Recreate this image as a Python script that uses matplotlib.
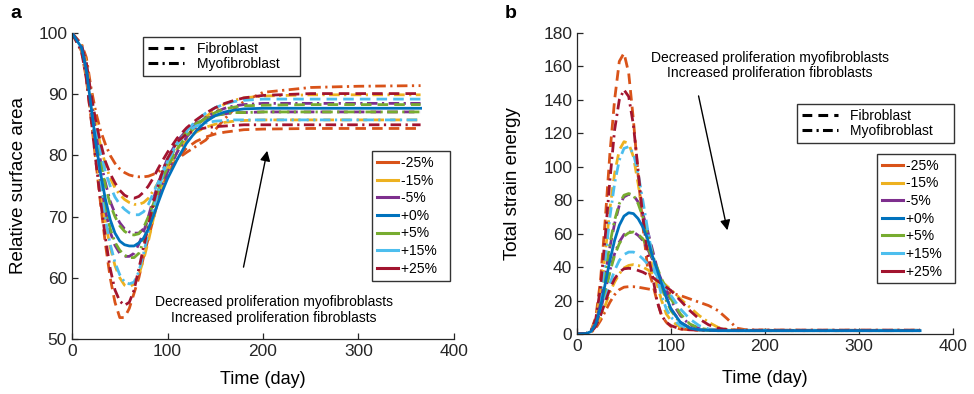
import numpy as np
import matplotlib
matplotlib.use('Agg')
from matplotlib import pyplot as plt
from matplotlib.lines import Line2D

plt.rcParams['font.family'] = ['Liberation Sans', 'DejaVu Sans']

''' --------------------------- data ----------------------------------'''
days = [0, 10, 15, 20, 25, 30, 35, 40, 45, 50, 55, 60, 65, 70, 75, 80, 85, 90, 95, 100,
        110, 120, 130, 140, 150, 160, 170, 180, 200, 250, 300, 365]

labels = ['-25%', '-15%', '-5%', '+0%', '+5%', '+15%', '+25%']
colors = ['#D95319', '#EDB120', '#7E2F8E', '#0072BD', '#77AC30', '#4DBEEE', '#A2142F']

# relative surface area, order: -25, -15, -5, +5, +15, +25
area_fibro = [
    [100, 97, 92.5, 86, 79, 72, 65.5, 60, 56, 53.5, 53.5, 55, 57.5, 60, 63.5, 66.5, 69.5, 72.5, 75, 77,
     79.5, 81.2, 82.3, 83, 83.5, 83.8, 84, 84.2, 84.3, 84.4, 84.4, 84.4],
    [100, 97.2, 93, 87, 80.5, 74.5, 69, 65, 62, 60, 58.8, 58.5, 59, 60.5, 63, 66, 69.5, 72.5, 75.3, 77.5,
     80.5, 82.5, 83.8, 84.6, 85.1, 85.4, 85.6, 85.7, 85.8, 85.8, 85.8, 85.8],
    [100, 97.5, 93.5, 87.5, 81.5, 76, 71, 67.5, 65.3, 64, 63.5, 63.5, 64, 65.5, 67.5, 70, 72.8, 75.3, 77.5, 79.5,
     82.3, 84.1, 85.3, 86, 86.5, 86.8, 87, 87, 87.1, 87.1, 87.1, 87.1],
    [100, 97.8, 94.5, 89, 83.5, 79, 75, 72, 70, 68.5, 67.6, 67.1, 67, 67.2, 68.2, 70, 72, 74.2, 76.3, 78,
     81, 83.2, 84.9, 86.1, 87, 87.6, 87.9, 88.1, 88.2, 88.3, 88.3, 88.3],
    [100, 98, 95, 89.5, 84.5, 80.5, 77.3, 75, 73.2, 72, 71.2, 70.6, 70.3, 70.3, 70.8, 72, 73.8, 75.5, 77.3, 79,
     81.8, 84, 85.7, 86.9, 87.8, 88.4, 88.8, 89, 89.2, 89.2, 89.2, 89.2],
    [100, 98, 95.2, 90, 85.5, 82, 79, 77, 75.5, 74.3, 73.5, 73.1, 73, 73.3, 74, 75, 76.3, 77.8, 79.2, 80.5,
     82.8, 84.5, 85.8, 86.9, 87.8, 88.5, 89, 89.4, 89.8, 90.1, 90.1, 90.1],
]
area_myo = [
    [100, 98.2, 96, 91, 87, 84, 81.8, 80, 78.7, 77.8, 77.2, 76.8, 76.6, 76.5, 76.5, 76.6, 76.9, 77.3, 77.8, 78.3,
     79.4, 80.5, 81.5, 82.5, 84.2, 86, 87.6, 88.8, 90.3, 91.1, 91.3, 91.4],
    [100, 98, 95.2, 90, 85.3, 81.5, 78.5, 76.3, 74.7, 73.6, 72.8, 72.3, 72, 72, 72.3, 73, 74.2, 75.5, 77, 78.5,
     81, 83, 84.8, 86.3, 87.5, 88.4, 89, 89.4, 89.7, 89.9, 89.9, 89.9],
    [100, 97.8, 94.5, 89, 83.5, 79, 75.5, 72.5, 70.5, 69, 68, 67.5, 67.3, 67.3, 68, 69.5, 71.5, 73.5, 75.5, 77.3,
     80.5, 83, 84.8, 86.2, 87.1, 87.7, 88.1, 88.3, 88.5, 88.5, 88.5, 88.5],
    [100, 97.5, 93.5, 87.5, 81.5, 76, 71.5, 68, 65.8, 64.5, 63.7, 63.3, 63.3, 64, 66, 68.5, 71.3, 74, 76.5, 78.7,
     81.8, 83.9, 85.2, 86, 86.5, 86.8, 87, 87, 87.1, 87.1, 87.1, 87.1],
    [100, 97.2, 93, 87, 80.5, 74.5, 69.5, 65.5, 62.5, 60.5, 59.3, 59, 59.3, 61, 64, 67.5, 71, 74, 76.8, 79,
     82, 83.8, 84.8, 85.3, 85.6, 85.7, 85.8, 85.8, 85.8, 85.8, 85.8, 85.8],
    [100, 97, 92.5, 86, 79, 72.5, 66.5, 61.5, 58, 56.2, 55.5, 56, 58, 61.5, 65, 68.5, 72, 75, 77.5, 79.5,
     82.2, 83.5, 84.2, 84.5, 84.7, 84.8, 84.9, 85, 85, 85, 85, 85],
]
area_base = [100, 97.6, 94, 88, 82, 77, 72.8, 69.5, 67.3, 66, 65.4, 65.2, 65.2, 65.7, 66.5, 68, 70, 72.2, 74.3, 76.2,
             79.3, 82, 84, 85.5, 86.5, 87.1, 87.4, 87.6, 87.7, 87.7, 87.7, 87.7]

# total strain energy
energy_fibro = [
    [0, 0.3, 2, 10, 32, 68, 108, 140, 163, 168, 156, 128, 95, 65, 40, 31, 20, 11, 7, 4.5,
     3, 2.5, 2.3, 2.2, 2.2, 2.2, 2.2, 2.2, 2.2, 2.2, 2.2, 2.2],
    [0, 0.3, 2, 8, 24, 48, 75, 96, 110, 115, 114, 106, 90, 72, 55, 40, 30, 20, 12, 8,
     4, 2.8, 2.4, 2.2, 2.2, 2.2, 2.2, 2.2, 2.2, 2.2, 2.2, 2.2],
    [0, 0.3, 1.8, 7, 18, 35, 52, 66, 77, 82, 83.5, 83, 79, 72, 62, 51, 40, 30, 22, 15,
     7, 3.8, 2.6, 2.2, 2, 2, 2, 2, 2, 2, 2, 2],
    [0, 0.3, 1.5, 5.5, 14, 25, 37, 47, 54, 58.5, 60.5, 61, 59.5, 57, 52, 46, 40, 33, 27, 21,
     12, 6, 3.5, 2.6, 2.2, 2, 2, 2, 2, 2, 2, 2],
    [0, 0.3, 1.3, 5, 12, 21, 30, 38, 44, 47.5, 49, 49, 47.5, 45, 42, 39, 35, 31, 27, 23,
     15, 9, 5, 3, 2.5, 2.2, 2, 2, 2, 2, 2, 2],
    [0, 0.3, 1.2, 4.5, 11, 19, 27, 33, 37, 39, 39.3, 39, 38, 37, 35.5, 34, 32, 30, 28, 26,
     20, 14, 9, 5.5, 3.5, 2.6, 2.2, 2, 2, 2, 2, 2],
]
energy_myo = [
    [0, 0.3, 1, 3.5, 8, 13.5, 19, 23.5, 26.5, 28, 28.3, 28.3, 28, 27.5, 27, 26.5, 26, 25.5, 25, 24.5,
     23, 21, 19, 17, 14, 9, 3.5, 2.5, 2.3, 2.2, 2.2, 2.2],
    [0, 0.3, 1.2, 4.5, 10, 17, 25, 31, 36, 39.5, 41, 41.5, 41, 40, 38.5, 36.5, 34, 31.5, 29, 26.5,
     21, 16, 11, 7, 4, 2.8, 2.3, 2.2, 2.2, 2.2, 2.2, 2.2],
    [0, 0.3, 1.5, 5.5, 14, 26, 38, 48, 55, 59.5, 61, 61, 59, 56, 51, 45, 39, 32, 26, 20,
     11, 5.5, 3.3, 2.5, 2.2, 2, 2, 2, 2, 2, 2, 2],
    [0, 0.3, 1.8, 7, 19, 36, 54, 68, 78, 83, 84, 83, 78, 70, 60, 49, 38, 28, 20, 14,
     6.5, 3.5, 2.5, 2.2, 2, 2, 2, 2, 2, 2, 2, 2],
    [0, 0.3, 2, 8, 22, 45, 70, 90, 104, 111, 112, 108, 96, 80, 63, 47, 34, 23, 15, 10,
     5, 3, 2.4, 2.2, 2.2, 2.2, 2.2, 2.2, 2.2, 2.2, 2.2, 2.2],
    [0, 0.3, 2, 9, 28, 58, 92, 122, 140, 146, 142, 125, 98, 70, 48, 36, 20, 11, 7, 5,
     3, 2.5, 2.3, 2.3, 2.3, 2.3, 2.3, 2.3, 2.3, 2.3, 2.3, 2.3],
]
energy_base = [0, 0.3, 1.5, 6, 16, 30, 44, 56, 65, 70.5, 72.5, 72, 69, 64, 57, 47, 39, 30, 22, 15,
               7, 3.5, 2.5, 2.2, 2, 2, 2, 2, 2, 2, 2, 2]

''' --------------------------- plot ----------------------------------'''
lw = 2.0
dash = (3.8, 2.2)
dashdot = (3.8, 1.6, 0.8, 1.6)
var_colors = [c for i, c in enumerate(colors) if i != 3]

fig = plt.figure(figsize=(9.74, 3.94), dpi=100)
ax_a = fig.add_axes([72 / 974, 1 - 339 / 394, 382 / 974, 306 / 394])
ax_b = fig.add_axes([577 / 974, 1 - 334 / 394, 376 / 974, 301 / 394])


def draw_panel(ax, fibro, myo, base):
    for k in range(6):
        ax.plot(days, fibro[k], color=var_colors[k], lw=lw, dashes=dash)
        ax.plot(days, myo[k], color=var_colors[k], lw=lw, dashes=dashdot)
    ax.plot(days, base, color=colors[3], lw=lw)
    ax.spines['top'].set_visible(False)
    ax.spines['right'].set_visible(False)
    for s in ['left', 'bottom']:
        ax.spines[s].set_linewidth(0.9)
        ax.spines[s].set_color('#262626')
    ax.tick_params(direction='in', length=4, width=0.9, labelsize=12.5, colors='#262626')
    ax.set_xlim(0, 400)
    ax.set_xticks([0, 100, 200, 300, 400])
    ax.set_xlabel('Time (day)', fontsize=13)


def add_legends(ax, pos_style, pos_color):
    style_handles = [Line2D([], [], color='k', lw=2.2, dashes=(3.2, 2.0)),
                     Line2D([], [], color='k', lw=2.2, dashes=(3.2, 1.4, 0.7, 1.4))]
    leg1 = ax.legend(style_handles, ['Fibroblast    ', 'Myofibroblast    '], loc='upper left',
                     bbox_to_anchor=pos_style, fontsize=10, frameon=True, fancybox=False,
                     edgecolor='k', handlelength=2.6, handletextpad=0.9, labelspacing=0.1,
                     borderpad=0.35, borderaxespad=0)
    leg1.get_frame().set_linewidth(1.0)
    ax.add_artist(leg1)
    color_handles = [Line2D([], [], color=c, lw=2.2) for c in colors]
    leg2 = ax.legend(color_handles, [l + '  ' for l in labels], loc='upper left',
                     bbox_to_anchor=pos_color,
                     fontsize=10, frameon=True, fancybox=False, edgecolor='k',
                     handlelength=1.5, handletextpad=0.25, labelspacing=0.26,
                     borderpad=0.35, borderaxespad=0)
    leg2.get_frame().set_linewidth(1.0)


# panel a
draw_panel(ax_a, area_fibro, area_myo, area_base)
ax_a.set_ylim(50, 100)
ax_a.set_yticks([50, 60, 70, 80, 90, 100])
ax_a.set_ylabel('Relative surface area', fontsize=13.5)
ax_a.yaxis.set_label_coords(-0.118, 0.5)
ax_a.xaxis.set_label_coords(0.5, -0.105)
add_legends(ax_a, (0.186, 0.987), (0.785, 0.614))
ax_a.annotate('', xy=(205, 81.2), xytext=(179, 61.3),
              arrowprops=dict(arrowstyle='-|>', color='k', lw=1, mutation_scale=15))
ax_a.text(211, 54.7, 'Decreased proliferation myofibroblasts\nIncreased proliferation fibroblasts',
          ha='center', va='center', fontsize=10, linespacing=1.15)

# panel b
draw_panel(ax_b, energy_fibro, energy_myo, energy_base)
ax_b.set_ylim(0, 180)
ax_b.set_yticks(range(0, 181, 20))
ax_b.set_ylabel('Total strain energy', fontsize=13.5)
ax_b.yaxis.set_label_coords(-0.148, 0.5)
ax_b.xaxis.set_label_coords(0.5, -0.12)
add_legends(ax_b, (0.585, 0.764), (0.798, 0.598))
ax_b.annotate('', xy=(160.6, 60.4), xytext=(128.7, 144),
              arrowprops=dict(arrowstyle='-|>', color='k', lw=1, mutation_scale=15))
ax_b.text(205, 160.6, 'Decreased proliferation myofibroblasts\nIncreased proliferation fibroblasts',
          ha='center', va='center', fontsize=10, linespacing=1.15)

fig.text(10 / 974, 1 - 13 / 394, 'a', fontsize=14, fontweight='bold', va='center')
fig.text(505 / 974, 1 - 13 / 394, 'b', fontsize=14, fontweight='bold', va='center')

fig.savefig('out.png', dpi=100)
